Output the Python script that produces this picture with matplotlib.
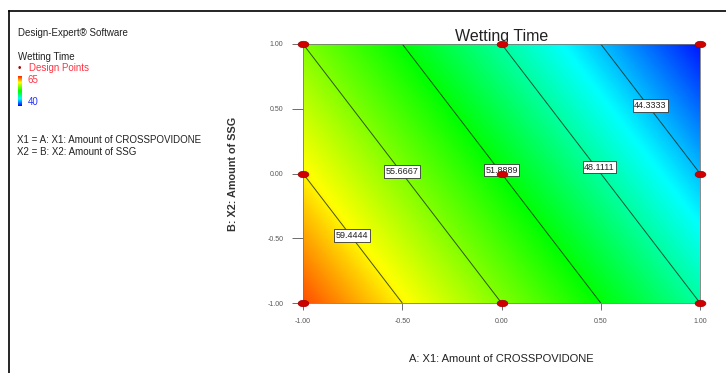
import numpy as np
import matplotlib.pyplot as plt
from matplotlib.colors import LinearSegmentedColormap, Normalize
from matplotlib.lines import Line2D
from matplotlib.path import Path

plt.rcParams['font.family'] = ['Liberation Sans', 'DejaVu Sans']

# Linear model for wetting time (coded factors)
b0 = 51.8889
bA = -7.5556
bB = -3.7778

levels = [44.3333, 48.1111, 51.8889, 55.6667, 59.4444]
# label positions (coded units) for each contour level
label_pos = [(0.75, 0.525), (0.494, 0.05), (0.0, 0.027), (-0.50, 0.015), (-0.753, -0.479)]

design_x = [-1, 0, 1, -1, 0, 1, -1, 0, 1]
design_y = [-1, -1, -1, 0, 0, 0, 1, 1, 1]

ticks = [-1.0, -0.5, 0.0, 0.5, 1.0]
scale_lo, scale_hi = 40, 65

cmap = LinearSegmentedColormap.from_list(
    'de', [(0.0, '#0000ff'), (0.23, '#00ffff'), (0.48, '#00ff00'),
           (0.77, '#ffff00'), (1.0, '#ff0000')])
norm = Normalize(scale_lo, scale_hi)

fig = plt.figure(figsize=(7.26, 3.73), dpi=100)
ax = fig.add_axes([303 / 726, 1 - 303 / 373, 397 / 726, 259 / 373])

g = np.linspace(-1, 1, 300)
X1, X2 = np.meshgrid(g, g)
Z = b0 + bA * X1 + bB * X2

ax.imshow(Z, extent=(-1, 1, -1, 1), origin='lower', cmap=cmap, norm=norm,
          aspect='auto', interpolation='bilinear')
ax.contour(X1, X2, Z, levels=levels, colors='#1a2a1a', linewidths=0.7, alpha=0.8)

for lev, (px, py) in zip(levels, label_pos):
    ax.text(px, py, '%.4f' % lev, fontsize=6.5, ha='center', va='center', color='#222222',
            bbox=dict(boxstyle='square,pad=0.18', fc='white', ec='#333333', lw=0.6))

# flattened ellipse marker for design points
t = np.linspace(0, 2 * np.pi, 40)
ell = Path(np.column_stack([np.cos(t), 0.6 * np.sin(t)]), closed=True)
ax.scatter(design_x, design_y, s=60, marker=ell, color='#d00000', clip_on=False,
           zorder=5, edgecolors='#a00000', linewidths=0.5)

ax.set_xlim(-1, 1)
ax.set_ylim(-1, 1)
ax.set_xticks(ticks)
ax.set_yticks(ticks)
ax.set_xticklabels(['%.2f' % t for t in ticks])
ax.set_yticklabels(['%.2f' % t for t in ticks])
ax.tick_params(labelsize=5, colors='#555555', length=5, width=0.6, pad=6)
ax.tick_params(axis='y', length=8)
for s in ax.spines.values():
    s.set_color('#777777')
    s.set_linewidth(0.6)

ax.set_title('Wetting Time', fontsize=11.5, color='#222222', pad=2)
ax.set_xlabel('A: X1: Amount of CROSSPOVIDONE', fontsize=8, color='#222222', labelpad=21)
ax.set_ylabel('B: X2: Amount of SSG', fontsize=7.8, color='#333333', labelpad=21,
              fontweight='bold')

# left info panel
fig.text(18 / 726, 1 - 33 / 373, 'Design-Expert\u00ae Software', fontsize=7,
         color='#222222', va='center')
fig.text(18 / 726, 1 - 57 / 373, 'Wetting Time', fontsize=7, color='#222222', va='center')
fig.text(18 / 726, 1 - 68 / 373, '\u2022', fontsize=7, color='#b00000', va='center')
fig.text(29 / 726, 1 - 68 / 373, 'Design Points', fontsize=7, color='#ff3344', va='center')
fig.text(28 / 726, 1 - 80 / 373, str(scale_hi), fontsize=7, color='#ff3344', va='center')
fig.text(28 / 726, 1 - 102 / 373, str(scale_lo), fontsize=7, color='#2233ff', va='center')
fig.text(17 / 726, 1 - 140 / 373, 'X1 = A: X1: Amount of CROSSPOVIDONE', fontsize=7,
         color='#222222', va='center')
fig.text(17 / 726, 1 - 152 / 373, 'X2 = B: X2: Amount of SSG', fontsize=7,
         color='#222222', va='center')

cax = fig.add_axes([18 / 726, 1 - 106 / 373, 4 / 726, 30 / 373])
cax.imshow(np.linspace(scale_lo, scale_hi, 100).reshape(-1, 1), origin='lower',
           cmap=cmap, norm=norm, aspect='auto')
cax.set_xticks([])
cax.set_yticks([])
for s in cax.spines.values():
    s.set_visible(False)

# outer frame (top and left only)
fig.add_artist(Line2D([9 / 726, 1], [1 - 11 / 373, 1 - 11 / 373], color='black', lw=1.2))
fig.add_artist(Line2D([9 / 726, 9 / 726], [0, 1 - 11 / 373], color='black', lw=1.2))

fig.savefig('out.png', dpi=100)
